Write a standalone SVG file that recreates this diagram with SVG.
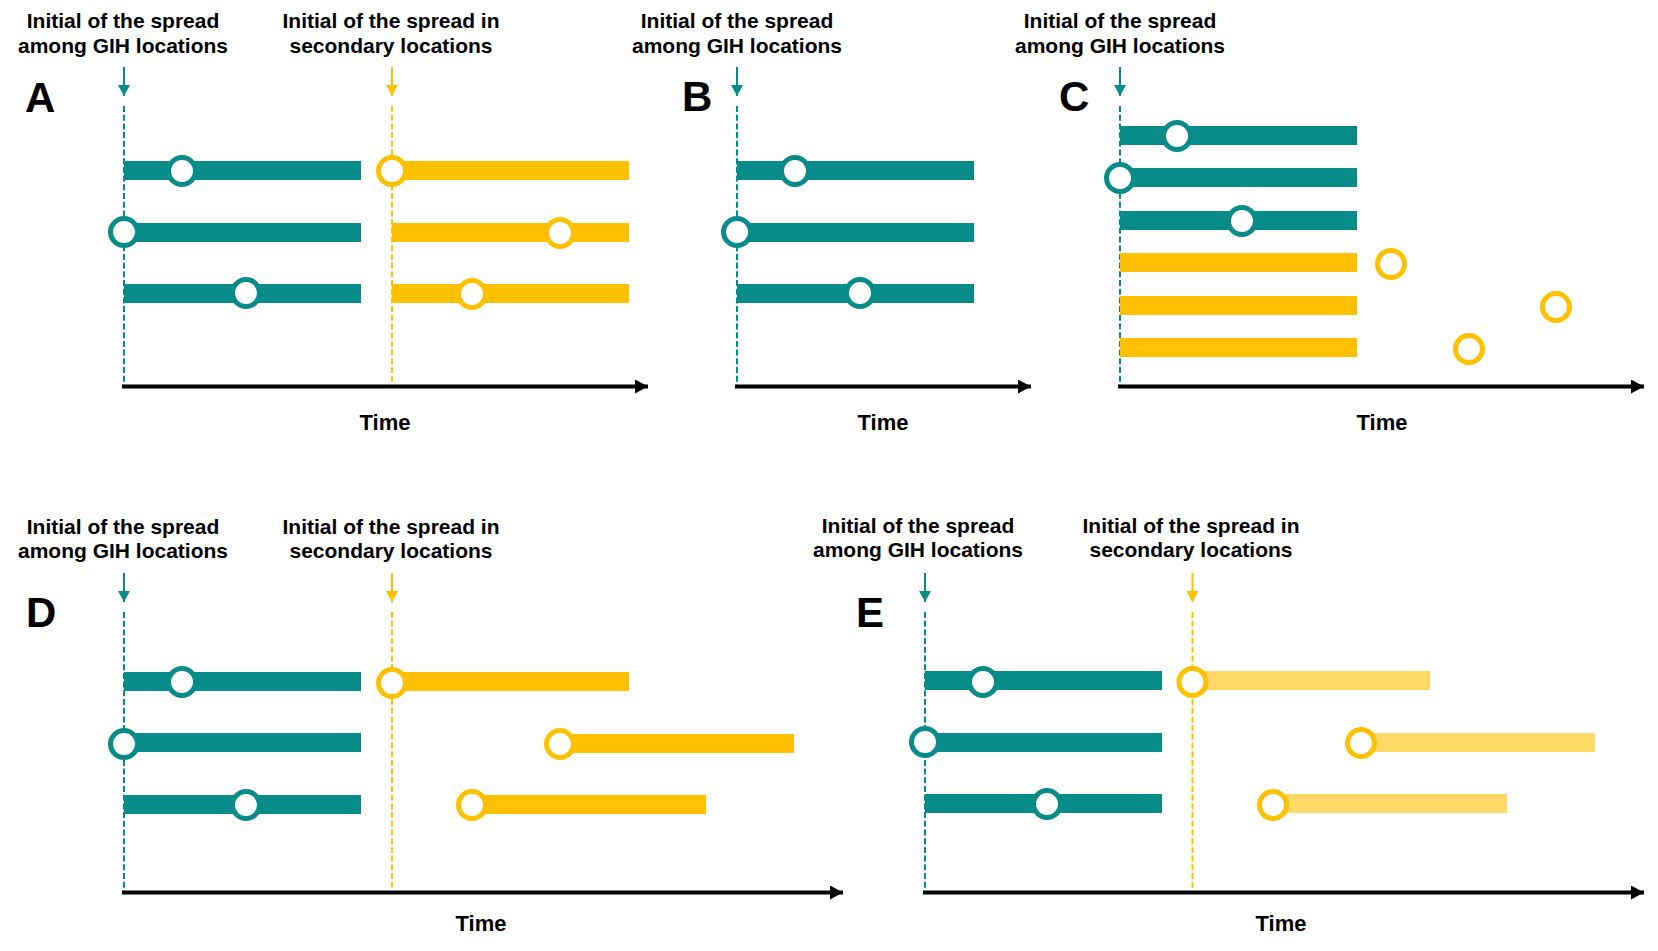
<svg xmlns="http://www.w3.org/2000/svg" width="1658" height="951" viewBox="0 0 1658 951">
<style>
text{font-family:"Liberation Sans",Arial,sans-serif;font-weight:bold;fill:#000}
.hd{font-size:21px;text-anchor:middle}
.tm{font-size:22px;text-anchor:middle}
.lb{font-size:42px}
.tb{fill:#088C8A}
.yb{fill:#FFC000}
.lyb{fill:#FFD966}
.tc{fill:#fff;stroke:#088C8A;stroke-width:5}
.yc{fill:#fff;stroke:#FFC000;stroke-width:5}
.dt{stroke:#088C8A;stroke-width:2;stroke-dasharray:6 2.7;fill:none}
.dy{stroke:#FFC000;stroke-width:2;stroke-dasharray:6 2.7;fill:none}
.at{stroke:#088C8A;stroke-width:2;marker-end:url(#mt)}
.ay{stroke:#FFC000;stroke-width:2;marker-end:url(#my)}
.ax{stroke:#000;stroke-width:4;marker-end:url(#mk)}
</style>
<defs>
<marker id="mt" markerUnits="userSpaceOnUse" markerWidth="12" markerHeight="12" viewBox="0 0 11 12" refX="11" refY="6" orient="auto"><path d="M0,0 L11,6 L0,12 z" fill="#088C8A"/></marker>
<marker id="my" markerUnits="userSpaceOnUse" markerWidth="12" markerHeight="12" viewBox="0 0 11 12" refX="11" refY="6" orient="auto"><path d="M0,0 L11,6 L0,12 z" fill="#FFC000"/></marker>
<marker id="mk" markerUnits="userSpaceOnUse" markerWidth="14" markerHeight="14" viewBox="0 0 13 14" refX="13" refY="7" orient="auto"><path d="M0,0 L13,7 L0,14 z" fill="#000"/></marker>
</defs>
<rect width="1658" height="951" fill="#fff"/>

<g id="connectors">
<!-- A -->
<line class="at" x1="124" y1="67" x2="124" y2="96"/>
<line class="ay" x1="392" y1="67" x2="392" y2="96"/>
<line class="dt" x1="124" y1="106" x2="124" y2="385"/>
<line class="dy" x1="392" y1="106" x2="392" y2="385"/>
<line class="ax" x1="122" y1="386.5" x2="648" y2="386.5"/>
<!-- B -->
<line class="at" x1="737" y1="67" x2="737" y2="96"/>
<line class="dt" x1="737" y1="106" x2="737" y2="385"/>
<line class="ax" x1="735" y1="386.5" x2="1031" y2="386.5"/>
<!-- C -->
<line class="at" x1="1120" y1="67" x2="1120" y2="96"/>
<line class="dt" x1="1120" y1="106" x2="1120" y2="385"/>
<line class="ax" x1="1118" y1="386.5" x2="1644" y2="386.5"/>
<!-- D -->
<line class="at" x1="124" y1="573" x2="124" y2="602"/>
<line class="ay" x1="392" y1="573" x2="392" y2="602"/>
<line class="dt" x1="124" y1="612" x2="124" y2="891"/>
<line class="dy" x1="392" y1="612" x2="392" y2="891"/>
<line class="ax" x1="122" y1="892.5" x2="843" y2="892.5"/>
<!-- E -->
<line class="at" x1="925" y1="573" x2="925" y2="602"/>
<line class="ay" x1="1192.5" y1="573" x2="1192.5" y2="602"/>
<line class="dt" x1="925" y1="612" x2="925" y2="891"/>
<line class="dy" x1="1192.5" y1="612" x2="1192.5" y2="891"/>
<line class="ax" x1="923" y1="892.5" x2="1644" y2="892.5"/>
</g>

<g id="panelA">
<text class="lb" x="25" y="112">A</text>
<text class="hd" x="123" y="28">Initial of the spread</text>
<text class="hd" x="123" y="53">among GIH locations</text>
<text class="hd" x="391" y="28">Initial of the spread in</text>
<text class="hd" x="391" y="53">secondary locations</text>
<text class="tm" x="385" y="430">Time</text>
<rect class="tb" x="124" y="161" width="237" height="19"/>
<rect class="tb" x="124" y="223" width="237" height="19"/>
<rect class="tb" x="124" y="284" width="237" height="19"/>
<rect class="yb" x="392" y="161" width="237" height="19"/>
<rect class="yb" x="392" y="223" width="237" height="19"/>
<rect class="yb" x="392" y="284" width="237" height="19"/>
<circle class="tc" cx="182" cy="171" r="13.5"/>
<circle class="yc" cx="392" cy="171" r="13.5"/>
<circle class="tc" cx="124" cy="232" r="13.5"/>
<circle class="yc" cx="560" cy="233" r="13.5"/>
<circle class="tc" cx="246" cy="293" r="13.5"/>
<circle class="yc" cx="472" cy="294" r="13.5"/>
</g>

<g id="panelB">
<text class="lb" x="682" y="111">B</text>
<text class="hd" x="737" y="28">Initial of the spread</text>
<text class="hd" x="737" y="53">among GIH locations</text>
<text class="tm" x="883" y="430">Time</text>
<rect class="tb" x="737" y="161" width="237" height="19"/>
<rect class="tb" x="737" y="223" width="237" height="19"/>
<rect class="tb" x="737" y="284" width="237" height="19"/>
<circle class="tc" cx="795" cy="171" r="13.5"/>
<circle class="tc" cx="737" cy="232" r="13.5"/>
<circle class="tc" cx="860" cy="293" r="13.5"/>
</g>

<g id="panelC">
<text class="lb" x="1059" y="111">C</text>
<text class="hd" x="1120" y="28">Initial of the spread</text>
<text class="hd" x="1120" y="53">among GIH locations</text>
<text class="tm" x="1382" y="430">Time</text>
<rect class="tb" x="1120" y="126" width="237" height="19"/>
<rect class="tb" x="1120" y="168" width="237" height="19"/>
<rect class="tb" x="1120" y="211" width="237" height="19"/>
<rect class="yb" x="1120" y="253" width="237" height="19"/>
<rect class="yb" x="1120" y="296" width="237" height="19"/>
<rect class="yb" x="1120" y="338" width="237" height="19"/>
<circle class="tc" cx="1177" cy="136" r="13.5"/>
<circle class="tc" cx="1120" cy="178" r="13.5"/>
<circle class="tc" cx="1242" cy="221" r="13.5"/>
<circle class="yc" cx="1391" cy="264" r="13.5"/>
<circle class="yc" cx="1556" cy="307" r="13.5"/>
<circle class="yc" cx="1469" cy="349" r="13.5"/>
</g>

<g id="panelD">
<text class="lb" x="26" y="627">D</text>
<text class="hd" x="123" y="534">Initial of the spread</text>
<text class="hd" x="123" y="558">among GIH locations</text>
<text class="hd" x="391" y="534">Initial of the spread in</text>
<text class="hd" x="391" y="558">secondary locations</text>
<text class="tm" x="481" y="931">Time</text>
<rect class="tb" x="124" y="672" width="237" height="19"/>
<rect class="tb" x="124" y="733" width="237" height="19"/>
<rect class="tb" x="124" y="795" width="237" height="19"/>
<rect class="yb" x="392" y="672" width="237" height="19"/>
<rect class="yb" x="560" y="734" width="234" height="19"/>
<rect class="yb" x="472" y="795" width="234" height="19"/>
<circle class="tc" cx="182" cy="682" r="13.5"/>
<circle class="yc" cx="392" cy="683" r="13.5"/>
<circle class="tc" cx="124" cy="744" r="13.5"/>
<circle class="yc" cx="560" cy="744" r="13.5"/>
<circle class="tc" cx="246" cy="805" r="13.5"/>
<circle class="yc" cx="472" cy="805" r="13.5"/>
</g>

<g id="panelE">
<text class="lb" x="856" y="627">E</text>
<text class="hd" x="918" y="533">Initial of the spread</text>
<text class="hd" x="918" y="557">among GIH locations</text>
<text class="hd" x="1191" y="533">Initial of the spread in</text>
<text class="hd" x="1191" y="557">secondary locations</text>
<text class="tm" x="1281" y="931">Time</text>
<rect class="tb" x="925" y="671" width="237" height="19"/>
<rect class="tb" x="925" y="733" width="237" height="19"/>
<rect class="tb" x="925" y="794" width="237" height="19"/>
<rect class="lyb" x="1192.5" y="671" width="237.5" height="19"/>
<rect class="lyb" x="1361" y="733" width="234" height="19"/>
<rect class="lyb" x="1273" y="794" width="234" height="19"/>
<circle class="tc" cx="983" cy="682" r="13.5"/>
<circle class="yc" cx="1192.5" cy="682" r="13.5"/>
<circle class="tc" cx="925" cy="742" r="13.5"/>
<circle class="yc" cx="1361" cy="743" r="13.5"/>
<circle class="tc" cx="1047" cy="804" r="13.5"/>
<circle class="yc" cx="1273" cy="805" r="13.5"/>
</g>
</svg>
